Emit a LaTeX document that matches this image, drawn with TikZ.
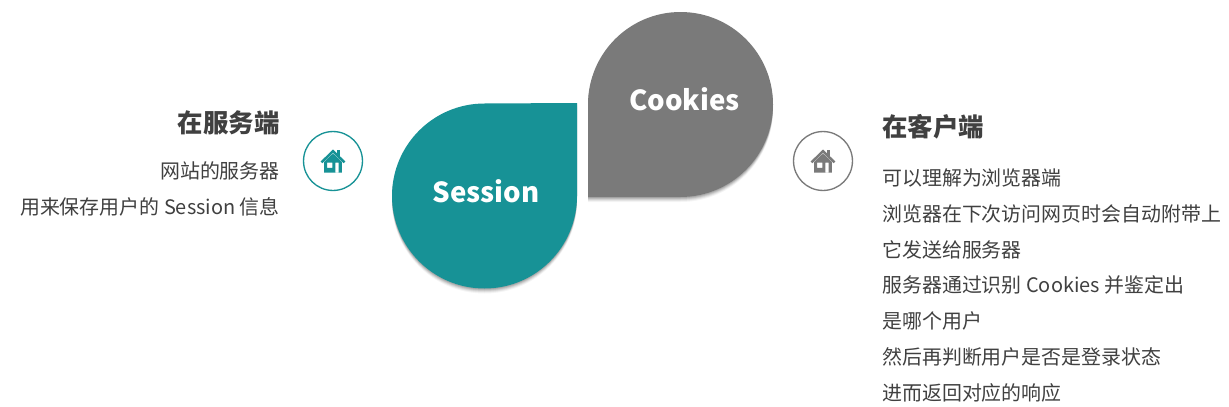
\documentclass[tikz,border=0pt]{standalone}
\usepackage{fontspec}
\setmainfont{Noto Sans CJK SC}
\definecolor{teal1}{HTML}{179296}
\definecolor{gray1}{HTML}{7A7A7A}
\definecolor{ink}{HTML}{404040}
\newcommand{\fs}[1]{\fontsize{#1}{#1}\selectfont}
\tikzset{
  head/.style={text=ink,font=\fs{19.1}\bfseries,inner sep=0pt},
  body/.style={text=ink,font=\fs{14.95},inner sep=0pt},
  dropname/.style={text=white,font=\fs{20.7}\bfseries,inner sep=0pt},
  ring/.style={circle,draw=#1,line width=1pt,fill=white,minimum size=44.2pt,inner sep=0pt},
  pics/house/.style={code={
    \fill[#1] (3.6,-11) rectangle (6.6,-4);
    \fill[#1] (-12.4,0.5) -- (0,-11.5) -- (12.4,0.5) -- (10.6,2.2) -- (0,-8) -- (-10.6,2.2) -- cycle;
    \fill[#1,even odd rule] (-8.8,0.8) -- (0,-7.4) -- (8.8,0.8) -- (8.8,11.5) -- (-8.8,11.5) -- cycle
      (-6,1.5) rectangle (-0.6,6.8)
      (2.4,1.5) rectangle (5.6,11.5);
  }},
}
\begin{document}
\begin{tikzpicture}[x=0.75pt,y=-0.75pt]
\useasboundingbox[fill=white] (0,0) rectangle (1229,407);
% shadows
\foreach \o/\t in {1/0.10,2/0.10,3/0.08,4/0.06,5/0.04}{
  \fill[black,opacity=\t,shift={(0,\o)}] (577,103) -- (577,196) arc[start angle=0,end angle=-270,x radius=92.5,y radius=-92.5] -- cycle;
  \fill[black,opacity=\t,shift={(0,\o)}] (588,104.5) arc[start angle=180,end angle=-90,x radius=92.5,y radius=-92.5] -- (588,197) -- cycle;
}
% teardrops
\fill[teal1] (577,103) -- (577,196) arc[start angle=0,end angle=-270,x radius=92.5,y radius=-92.5] -- cycle;
\fill[gray1] (588,104.5) arc[start angle=180,end angle=-90,x radius=92.5,y radius=-92.5] -- (588,197) -- cycle;
\node[dropname] (session) at (486,191) {Session};
\node[dropname] (cookies) at (684.5,99) {Cookies};
% icons
\node[ring=teal1] (ringL) at (333,161) {};
\pic at (ringL.center) {house=teal1};
\node[ring=gray1] (ringR) at (823,161) {};
\pic at (ringR.center) {house=gray1};
% left text
\node[head,anchor=east] (lh) at (280,123) {在服务端};
\node[body,anchor=east] (l1) at (280,171) {网站的服务器};
\node[body,anchor=east] (l2) at (280,207) {用来保存用户的 Session 信息};
% right text
\node[head,anchor=west] (rh) at (882,127) {在客户端};
\node[body,anchor=west] (r1) at (882,178) {可以理解为浏览器端};
\node[body,anchor=west] (r2) at (882,214) {浏览器在下次访问网页时会自动附带上};
\node[body,anchor=west] (r3) at (882,250) {它发送给服务器};
\node[body,anchor=west] (r4) at (882,285) {服务器通过识别 Cookies 并鉴定出};
\node[body,anchor=west] (r5) at (882,321) {是哪个用户};
\node[body,anchor=west] (r6) at (882,357) {然后再判断用户是否是登录状态};
\node[body,anchor=west] (r7) at (882,393) {进而返回对应的响应};
\end{tikzpicture}
\end{document}
